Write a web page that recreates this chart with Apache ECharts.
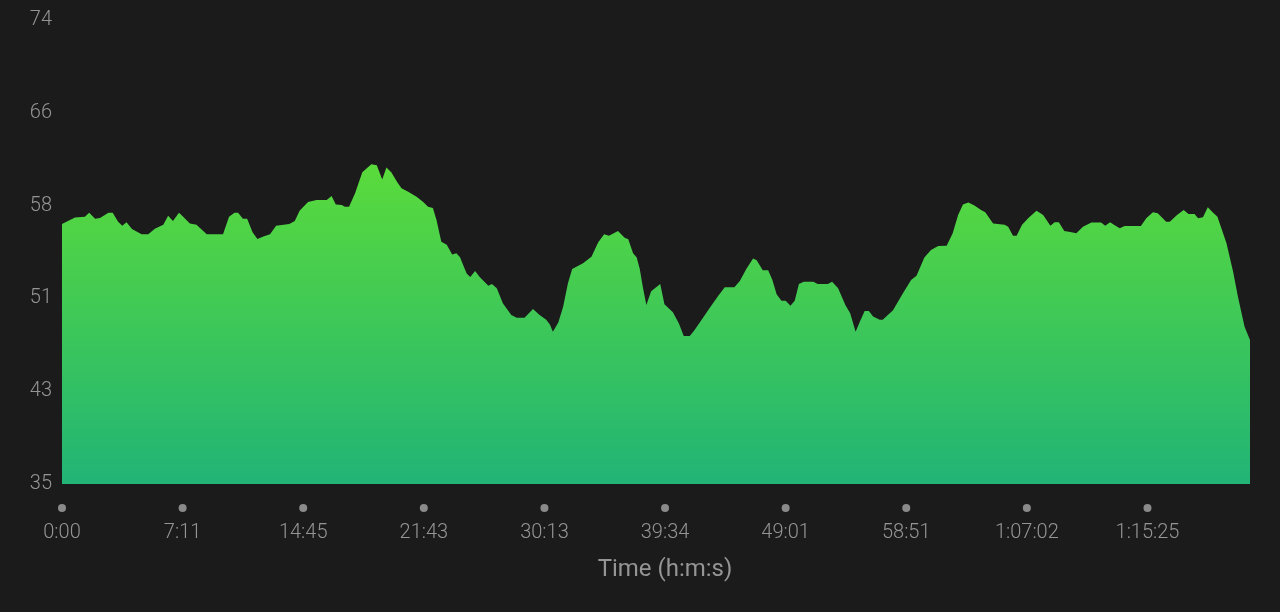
<!DOCTYPE html>
<html>
<head>
<meta charset="utf-8">
<script src="https://cdn.jsdelivr.net/npm/echarts@6/dist/echarts.min.js"></script>
<style>
html,body{margin:0;padding:0;background:#1b1b1b;}
#chart{width:1280px;height:612px;}
</style>
</head>
<body>
<div id="chart"></div>
<script>
// x position in sample units (20 units between labelled ticks)
const samplePos = [0,2.15,3.8,4.5,5.5,6.3,7.7,8.4,9.3,10.0,10.7,11.6,13.2,14.3,15.4,16.8,17.6,18.4,19.4,20.1,21.2,22.3,24.0,26.7,27.7,28.6,29.2,30.0,30.7,31.6,32.4,33.4,34.5,35.5,37.7,38.6,39.4,40.8,42.2,43.9,44.7,45.4,46.4,46.9,47.6,48.6,49.8,51.3,52.2,53.1,53.8,54.6,55.6,56.3,57.4,58.8,59.9,60.7,61.5,62.1,62.9,63.8,64.7,65.4,66.0,67.1,67.7,68.5,69.3,70.7,71.3,72.1,73.1,74.5,75.4,76.7,78.1,79.2,80.3,80.9,81.4,82.3,83.1,83.9,84.6,86.4,87.8,88.9,89.9,90.7,92.2,93.3,93.9,94.7,95.3,95.8,96.3,96.9,97.7,99.2,99.9,101.3,102.3,103.1,104.1,104.9,106.3,107.4,108.8,109.9,111.5,112.4,113.5,114.6,115.2,116.2,117.1,117.8,118.5,119.3,120.0,120.8,121.5,122.2,123.0,124.6,125.3,127.0,127.7,128.7,129.9,130.7,131.2,131.6,132.3,133.1,133.8,134.5,135.6,136.1,137.8,139.4,140.8,141.7,143.0,144.1,145.3,146.7,147.7,148.6,149.4,150.3,151.3,152.4,153.1,154.4,156.3,156.9,157.7,158.3,159.2,160.3,161.6,162.7,163.9,164.6,165.3,166.2,167.4,168.2,169.3,170.7,172.3,173.0,173.8,174.5,175.4,176.2,178.9,179.8,180.9,181.7,183.1,183.7,184.9,186.0,186.8,187.8,188.4,189.2,190.0,190.8,191.6,193.1,194.2,195.0,196.1,197];
const heartRate = [56.85,57.4,57.47,57.8,57.3,57.35,57.8,57.8,57.05,56.7,57.0,56.43,56.0,56.0,56.46,56.8,57.55,57.1,57.8,57.47,56.9,56.8,56.0,56.0,57.47,57.8,57.8,57.3,57.3,56.15,55.6,55.8,56.0,56.7,56.85,57.1,57.97,58.7,58.87,58.87,59.2,58.5,58.45,58.3,58.3,59.43,61.2,61.87,61.8,60.6,61.6,61.2,60.36,59.85,59.57,59.15,58.7,58.3,58.2,57.2,55.37,55.1,54.3,54.4,54.05,52.7,52.4,52.9,52.37,51.67,51.8,51.45,50.2,49.2,48.98,48.98,49.7,49.2,48.8,48.4,47.8,48.57,49.9,51.87,53.07,53.55,54.1,55.3,56.0,55.87,56.26,55.7,55.57,54.4,54.03,53.1,51.6,50.05,51.2,51.8,50.1,49.43,48.5,47.44,47.44,47.94,48.98,49.8,50.8,51.53,51.53,52.06,53.1,53.96,53.8,52.97,52.97,52.15,50.94,50.4,50.4,49.99,50.4,51.8,52.0,52.0,51.8,51.8,52.0,51.45,50.05,49.35,48.5,47.8,48.64,49.54,49.54,49.07,48.8,48.8,49.6,51.0,52.15,52.5,54.03,54.67,55.0,55.03,56.07,57.6,58.5,58.67,58.4,58.03,57.84,56.9,56.8,56.63,55.87,55.87,56.8,57.38,57.97,57.6,56.7,57.0,57.0,56.26,56.15,56.07,56.63,56.97,56.97,56.7,57.0,56.77,56.5,56.68,56.68,57.33,57.84,57.75,57.05,57.05,57.6,58.03,57.7,57.7,57.33,57.42,58.26,57.84,57.47,55.23,52.85,50.74,48.22,47.1];
const tickLabels = ['0:00','7:11','14:45','21:43','30:13','39:34','49:01','58:51','1:07:02','1:15:25'];
const axisTitle = 'Time (h:m:s)';

const seriesData = samplePos.map((x, i) => [x, heartRate[i]]);

const chart = echarts.init(document.getElementById('chart'), null, {renderer: 'canvas'});
chart.setOption({
  backgroundColor: '#1b1b1b',
  animation: false,
  textStyle: {fontFamily: 'Roboto'},
  grid: {left: 62, right: 30, top: 20, bottom: 128, containLabel: false},
  xAxis: {
    type: 'value', min: 0, max: 197, interval: 20,
    axisLine: {show: false}, axisTick: {show: false}, splitLine: {show: false},
    name: axisTitle, nameLocation: 'middle', nameGap: 74,
    nameTextStyle: {color: '#959595', fontSize: 24, fontFamily: 'Roboto', fontWeight: 400, padding: [0, 0, 0, 18]},
    axisLabel: {
      margin: 18, showMaxLabel: false,
      formatter: function (v) {
        const idx = Math.round(v / 20);
        if (Math.abs(v - idx * 20) > 1e-6 || idx >= tickLabels.length) return '';
        return '{dot| }\n{t|' + tickLabels[idx] + '}';
      },
      rich: {
        dot: {width: 8, height: 8, borderRadius: 4, backgroundColor: '#8a8a8a', lineHeight: 12, fontSize: 1},
        t: {fontSize: 20, lineHeight: 38, color: '#959595', fontFamily: 'Roboto', fontWeight: 300}
      }
    }
  },
  yAxis: {
    type: 'value', min: 35, max: 74, interval: 7.8,
    axisLine: {show: false}, axisTick: {show: false}, splitLine: {show: false},
    axisLabel: {
      color: '#959595', fontSize: 20, margin: 10, fontFamily: 'Roboto', fontWeight: 300,
      padding: [4, 0, 0, 0],
      formatter: v => String(Math.round(v))
    }
  },
  series: [{
    type: 'line',
    data: seriesData,
    showSymbol: false,
    lineStyle: {width: 0},
    areaStyle: {
      opacity: 1,
      color: new echarts.graphic.LinearGradient(0, 0, 0, 1, [
        {offset: 0, color: '#5adb3b'},
        {offset: 1, color: '#21b476'}
      ])
    }
  }]
});
</script>
</body>
</html>
